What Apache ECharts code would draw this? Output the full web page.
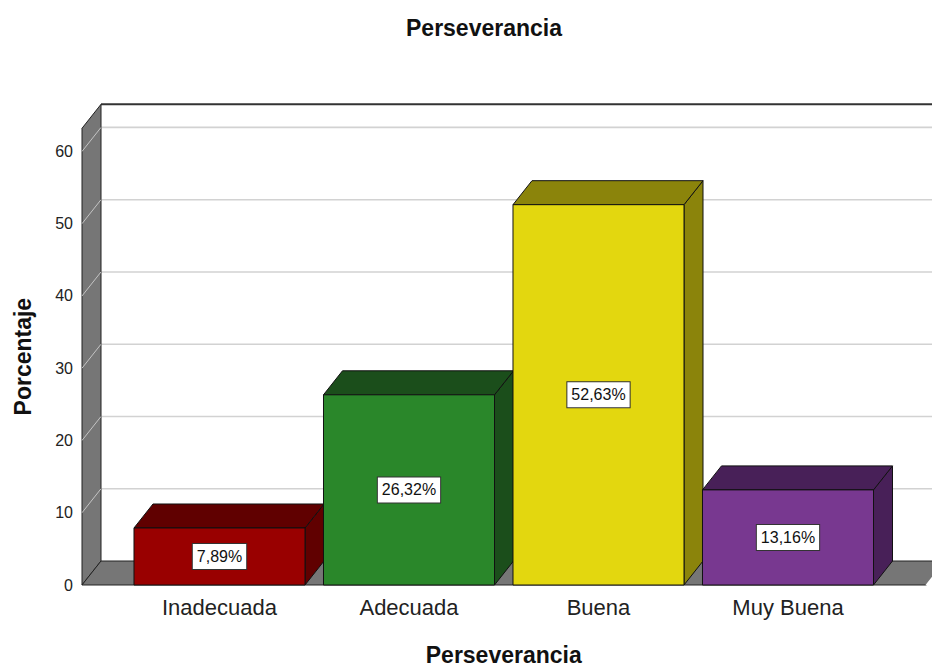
<!DOCTYPE html>
<html>
<head>
<meta charset="utf-8">
<script src="https://cdn.jsdelivr.net/npm/echarts@6/dist/echarts.min.js"></script>
<style>
html,body{margin:0;padding:0;background:#fff;}
#chart{width:932px;height:671px;}
</style>
</head>
<body>
<div id="chart"></div>
<script>
const categories = ['Inadecuada', 'Adecuada', 'Buena', 'Muy Buena'];
const percentages = [7.89, 26.32, 52.63, 13.16];
const yTicks = [0, 10, 20, 30, 40, 50, 60];
const chartTitle = 'Perseverancia';
const xTitle = 'Perseverancia';
const yTitle = 'Porcentaje';

const frontColors = ['#990000', '#2a872a', '#e3d70f', '#783890'];
const shadeColors = ['#600000', '#1b4e1b', '#8b840b', '#482058'];

const Y_MAX = 63.2;
const DX = 19, DY = 24;
const PAD = 42.75;
const BAR_RATIO = 0.9024;
const FONT = '"Liberation Sans", Arial, sans-serif';

const chart = echarts.init(document.getElementById('chart'), null, {renderer: 'svg'});

function fmt(v) { return v.toFixed(2).replace('.', ',') + '%'; }

function renderFrame(params, api) {
  const cs = params.coordSys;
  const y0 = api.coord([0, 0])[1];
  const yTop = api.coord([0, Y_MAX])[1];
  const xl = cs.x - PAD;
  const xr = cs.x + cs.width + PAD;
  const far = xr + DX + 60;
  const ch = [];
  ch.push({type: 'rect', shape: {x: xl + DX, y: yTop - DY, width: far - xl - DX, height: y0 - yTop},
           style: {fill: '#ffffff'}});
  yTicks.forEach(v => {
    if (v === 0) return;
    const y = api.coord([0, v])[1];
    ch.push({type: 'line', shape: {x1: xl + DX, y1: y - DY, x2: far, y2: y - DY},
             style: {stroke: '#d2d2d2', lineWidth: 1.6}});
  });
  ch.push({type: 'line', shape: {x1: xl + DX, y1: yTop - DY, x2: far, y2: yTop - DY},
           style: {stroke: '#333', lineWidth: 2}});
  ch.push({type: 'polygon', shape: {points: [[xl, yTop], [xl + DX, yTop - DY], [xl + DX, y0 - DY], [xl, y0]]},
           style: {fill: '#767676', stroke: '#222', lineWidth: 1}});
  yTicks.forEach(v => {
    if (v === 0) return;
    const y = api.coord([0, v])[1];
    ch.push({type: 'line', shape: {x1: xl, y1: y, x2: xl + DX, y2: y - DY},
             style: {stroke: '#c4c4c4', lineWidth: 1}});
  });
  ch.push({type: 'polygon', shape: {points: [[xl, y0], [xl + DX, y0 - DY], [far, y0 - DY], [xr, y0]]},
           style: {fill: '#767676', stroke: '#222', lineWidth: 1}});
  ch.push({type: 'polygon', shape: {points: [[xr, y0], [xr + DX, y0 - DY], [far, y0 - DY], [far, y0]]},
           style: {fill: '#ffffff'}});
  return {type: 'group', children: ch};
}

function renderBar(params, api) {
  const i = api.value(0);
  const v = api.value(1);
  const top = api.coord([i, v]);
  const yb = api.coord([i, 0])[1];
  const bw = api.size([1, 0])[0] * BAR_RATIO;
  const x0 = top[0] - bw / 2, x1 = top[0] + bw / 2, yt = top[1];
  const stroke = {stroke: '#111', lineWidth: 1};
  return {
    type: 'group',
    children: [
      {type: 'polygon', shape: {points: [[x1, yt], [x1 + DX, yt - DY], [x1 + DX, yb - DY], [x1, yb]]},
       style: Object.assign({fill: shadeColors[i]}, stroke)},
      {type: 'polygon', shape: {points: [[x0, yt], [x0 + DX, yt - DY], [x1 + DX, yt - DY], [x1, yt]]},
       style: Object.assign({fill: shadeColors[i]}, stroke)},
      {type: 'rect', shape: {x: x0, y: yt, width: bw, height: yb - yt},
       style: Object.assign({fill: frontColors[i]}, stroke)},
      {type: 'text', style: {
        text: fmt(percentages[i]), x: top[0], y: (yt + yb) / 2,
        align: 'center', verticalAlign: 'middle',
        fill: '#111', fontSize: 16, fontFamily: FONT,
        backgroundColor: '#ffffff', borderColor: '#333', borderWidth: 1,
        padding: [5, 4, 4, 4]
      }}
    ]
  };
}

chart.setOption({
  backgroundColor: '#ffffff',
  animation: false,
  title: {
    text: chartTitle, left: 401, top: 11,
    textStyle: {fontFamily: FONT, fontSize: 23, fontWeight: 'bold', color: '#111'}
  },
  grid: {left: 124.75, right: 49.25, top: 128.3, bottom: 80.3, containLabel: false},
  xAxis: {
    type: 'category', data: categories,
    axisLine: {show: false}, axisTick: {show: false}, splitLine: {show: false},
    axisLabel: {fontFamily: FONT, fontSize: 22, color: '#222', margin: 11},
    name: xTitle, nameLocation: 'middle', nameGap: 58,
    nameTextStyle: {fontFamily: FONT, fontSize: 23, fontWeight: 'bold', color: '#111'}
  },
  yAxis: {
    type: 'value', min: 0, max: Y_MAX, interval: 10, offset: PAD,
    axisLine: {show: false}, axisTick: {show: false}, splitLine: {show: false},
    axisLabel: {
      fontFamily: FONT, fontSize: 16, color: '#222', margin: 9, padding: [6, 0, 0, 0],
      formatter: v => (yTicks.indexOf(v) >= 0 ? String(v) : '')
    },
    name: yTitle, nameLocation: 'middle', nameGap: 48,
    nameTextStyle: {fontFamily: FONT, fontSize: 23, fontWeight: 'bold', color: '#111'}
  },
  series: [
    {type: 'custom', name: 'frame', renderItem: renderFrame, data: [[0, 0]], z: 1, silent: true},
    {type: 'custom', name: 'Porcentaje', renderItem: renderBar, encode: {x: 0, y: 1},
     data: percentages.map((v, i) => [i, v]), z: 2}
  ]
});
</script>
</body>
</html>
